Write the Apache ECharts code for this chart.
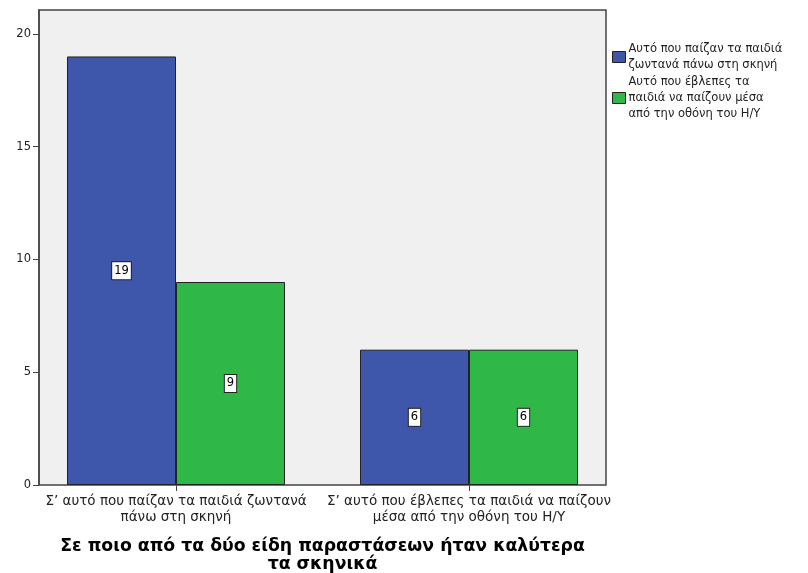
<!DOCTYPE html>
<html>
<head>
<meta charset="utf-8">
<script src="https://cdn.jsdelivr.net/npm/echarts@6/dist/echarts.min.js"></script>
<style>
  html, body { margin: 0; padding: 0; background: #ffffff; }
  #chart { width: 808px; height: 573px; }
</style>
</head>
<body>
<div id="chart"></div>
<script>
// Answer categories on the x axis
const categories = [
  'Σ’ αυτό που παίζαν τα παιδιά ζωντανά\nπάνω στη σκηνή',
  'Σ’ αυτό που έβλεπες τα παιδιά να παίζουν\nμέσα από την οθόνη του Η/Υ'
];
// Series names (shown in the legend)
const seriesNames = [
  'Αυτό που παίζαν τα παιδιά ζωντανά πάνω στη σκηνή',
  'Αυτό που έβλεπες τα παιδιά να παίζουν μέσα από την οθόνη του Η/Υ'
];
// Legend text with its line breaks
const legendLabels = [
  'Αυτό που παίζαν τα παιδιά\nζωντανά πάνω στη σκηνή',
  'Αυτό που έβλεπες τα\nπαιδιά να παίζουν μέσα\nαπό την οθόνη του Η/Υ'
];
// Counts per category for each series
const liveStageCounts = [19, 6];
const screenCounts = [9, 6];
// Y axis ticks
const yTicks = [0, 5, 10, 15, 20];
const xTitle = 'Σε ποιο από τα δύο είδη παραστάσεων ήταν καλύτερα\nτα σκηνικά';

const colors = ['#3e57ab', '#2fb847'];
const font = '"DejaVu Sans", Verdana, sans-serif';
const yMax = 21.06;

const chart = echarts.init(document.getElementById('chart'), null, { renderer: 'canvas' });

const labelStyle = {
  show: true,
  position: 'inside',
  color: '#000',
  fontFamily: font,
  fontSize: 11.5,
  backgroundColor: '#ffffff',
  borderColor: '#222',
  borderWidth: 1,
  padding: [3, 2, 2, 2]
};

chart.setOption({
  animation: false,
  color: colors,
  // grid 0: framed plot panel carrying the y axis
  // grid 1: slightly wider band where the category bars sit
  grid: [
    {
      left: 39, right: 202, top: 10, bottom: 88,
      outerBoundsMode: 'none',
      containLabel: false,
      show: true,
      backgroundColor: '#f0f0f0',
      borderColor: '#444',
      borderWidth: 1.5
    },
    {
      left: 29.5, right: 192.5, top: 10, bottom: 88,
      outerBoundsMode: 'none',
      containLabel: false,
      show: false
    }
  ],
  legend: {
    orient: 'vertical',
    left: 607, top: 36,
    itemWidth: 13, itemHeight: 11,
    itemGap: 1,
    icon: 'rect',
    data: seriesNames,
    formatter: name => legendLabels[seriesNames.indexOf(name)],
    textStyle: { fontFamily: font, fontSize: 11.5, color: '#222', lineHeight: 16, padding: [0, 0, 0, -2] },
    itemStyle: { borderColor: '#222', borderWidth: 1 }
  },
  xAxis: [
    {
      gridIndex: 0,
      type: 'category',
      data: categories,
      show: false
    },
    {
      gridIndex: 1,
      type: 'category',
      data: categories,
      axisLine: { show: false },
      axisTick: { show: true, alignWithLabel: true, length: 6, lineStyle: { color: '#444' } },
      axisLabel: { interval: 0, fontFamily: font, fontSize: 13.5, color: '#222', lineHeight: 16, margin: 8 },
      name: xTitle,
      nameLocation: 'middle',
      nameGap: 53,
      nameTextStyle: { fontFamily: font, fontSize: 17.3, fontWeight: 'bold', color: '#000', lineHeight: 18 }
    }
  ],
  yAxis: [
    {
      gridIndex: 0,
      type: 'value',
      min: 0, max: yMax, interval: 5,
      axisLine: { show: true, lineStyle: { color: '#444', width: 1.5 } },
      axisTick: { show: true, length: 6, lineStyle: { color: '#444' }, customValues: yTicks },
      axisLabel: { fontFamily: font, fontSize: 11.5, color: '#222', margin: 8, customValues: yTicks },
      splitLine: { show: false }
    },
    {
      gridIndex: 1,
      type: 'value',
      min: 0, max: yMax,
      show: false,
      splitLine: { show: false }
    }
  ],
  series: [
    {
      name: seriesNames[0],
      type: 'bar',
      xAxisIndex: 1, yAxisIndex: 1,
      data: liveStageCounts,
      barGap: '0%',
      barWidth: 109,
      itemStyle: { color: colors[0], borderColor: '#222', borderWidth: 1 },
      label: labelStyle
    },
    {
      name: seriesNames[1],
      type: 'bar',
      xAxisIndex: 1, yAxisIndex: 1,
      data: screenCounts,
      barGap: '0%',
      barWidth: 109,
      itemStyle: { color: colors[1], borderColor: '#222', borderWidth: 1 },
      label: labelStyle
    }
  ]
});
</script>
</body>
</html>
